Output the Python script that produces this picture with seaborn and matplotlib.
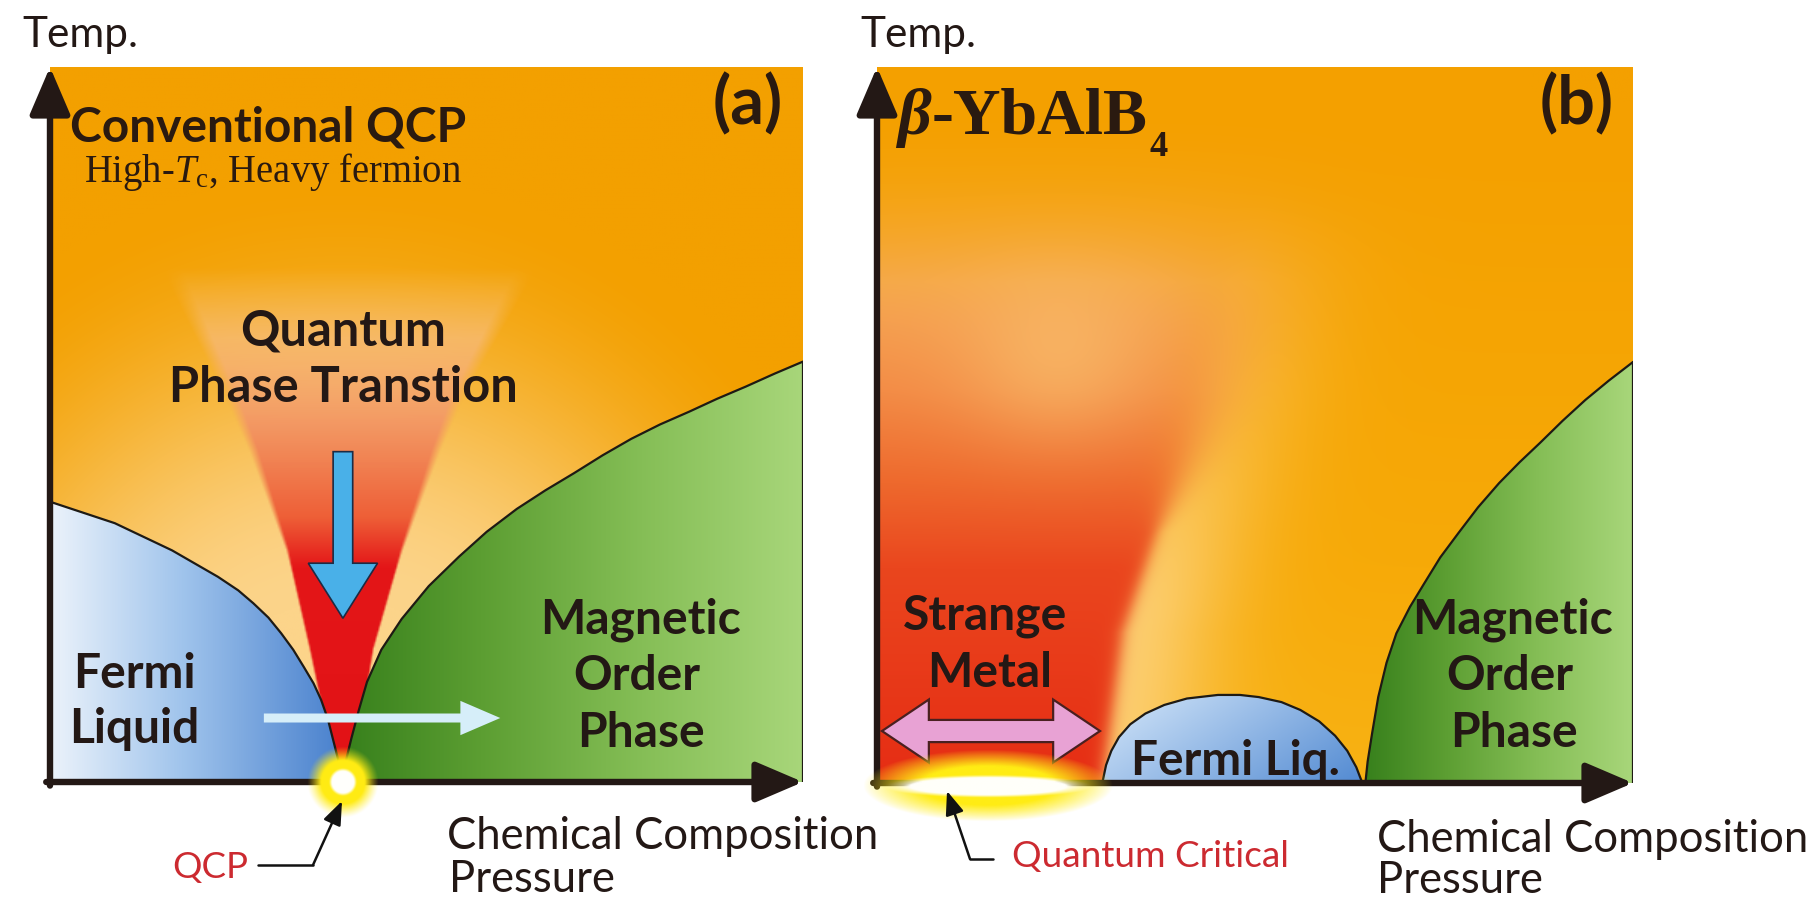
import numpy as np
import pandas as pd
import matplotlib
matplotlib.use("Agg")
import matplotlib.pyplot as plt
import seaborn as sns
from matplotlib.patches import Polygon, FancyArrow, FancyArrowPatch

sns.set_theme(style="white")
plt.rcParams['font.family'] = ['Lato', 'DejaVu Sans']
plt.rcParams['mathtext.fontset'] = 'custom'
plt.rcParams['mathtext.rm'] = 'Liberation Serif'
plt.rcParams['mathtext.it'] = 'Liberation Serif:italic'
plt.rcParams['mathtext.bf'] = 'Liberation Serif:bold'

# ---------------- data (relative units 0..1) ----------------
# Panel (a): conventional QCP
QCP_A = 0.389
FL_A_X = [0.0, 0.086, 0.162, 0.223, 0.250, 0.270, 0.290, 0.307, 0.323, 0.337, 0.350, 0.360, 0.369, 0.376, 0.383, 0.389]
FL_A_Y = [0.392, 0.362, 0.324, 0.287, 0.268, 0.250, 0.230, 0.208, 0.185, 0.161, 0.138, 0.115, 0.088, 0.059, 0.030, 0.0]
MO_A_X = [0.389, 0.393, 0.400, 0.410, 0.421, 0.440, 0.467, 0.503, 0.543, 0.580, 0.620, 0.658, 0.696, 0.734, 0.772, 0.810, 0.849, 0.886, 0.924, 0.962, 1.0]
MO_A_Y = [0.0, 0.030, 0.06, 0.100, 0.14, 0.185, 0.228, 0.274, 0.315, 0.350, 0.382, 0.408, 0.432, 0.457, 0.480, 0.500, 0.518, 0.536, 0.553, 0.571, 0.588]
FAN_Y = [0.0, 0.10, 0.185, 0.324, 0.464, 0.544, 0.72]
FAN_LEFT_X = [0.389, 0.362, 0.345, 0.315, 0.270, 0.239, 0.160]
FAN_RIGHT_X = [0.389, 0.416, 0.429, 0.467, 0.513, 0.543, 0.635]
TUNE_ARROW_X = [0.284, 0.598]
TUNE_ARROW_Y = 0.0895
DOWN_ARROW_X = 0.389
DOWN_ARROW_Y = [0.462, 0.229]

# Panel (b): beta-YbAlB4
FL_B_X = [0.298, 0.303, 0.310, 0.320, 0.335, 0.355, 0.380, 0.410, 0.451, 0.480, 0.505, 0.535, 0.560, 0.585, 0.606, 0.622, 0.634, 0.642]
FL_B_Y = [0.0, 0.025, 0.045, 0.064, 0.082, 0.097, 0.109, 0.118, 0.123, 0.123, 0.120, 0.113, 0.102, 0.086, 0.066, 0.045, 0.022, 0.0]
MO_B_X = [0.646, 0.649, 0.655, 0.663, 0.674, 0.687, 0.705, 0.724, 0.745, 0.769, 0.795, 0.823, 0.850, 0.877, 0.907, 0.937, 0.968, 1.0]
MO_B_Y = [0.0, 0.030, 0.070, 0.120, 0.168, 0.209, 0.246, 0.279, 0.315, 0.349, 0.385, 0.419, 0.448, 0.475, 0.506, 0.535, 0.562, 0.588]
SM_EDGE_Y = [0.0, 0.21, 0.35, 0.44, 0.535, 0.70, 0.90, 1.0]
SM_EDGE_X = [0.298, 0.325, 0.370, 0.406, 0.443, 0.49, 0.55, 0.58]
QC_B_CENTER = 0.147
SM_ARROW_X = [0.0066, 0.295]
SM_ARROW_Y = 0.0726

# texts
AXIS_T = "Temp."
AXIS_X = ["Chemical Composition", "Pressure"]
TITLE_A = "Conventional QCP"
SUBTITLE_A = r"High-$T_{\rm c}$, Heavy fermion"
TAGS = ["(a)", "(b)"]
QPT_LABEL = ["Quantum", "Phase Transtion"]
FL_A_LABEL = ["Fermi", "Liquid"]
MO_LABEL = ["Magnetic", "Order", "Phase"]
QCP_LABEL = "QCP"
TITLE_B = ["β", "-YbAlB", "4"]
SM_LABEL = ["Strange", "Metal"]
FL_B_LABEL = "Fermi Liq."
QC_LABEL = "Quantum Critical"

INK = "#231815"
RED_TXT = "#cc2a30"

# ---------------- helpers ----------------
W, H = 1812, 898
fig = plt.figure(figsize=(W / 100, H / 100), dpi=100)
fig.patch.set_facecolor("white")


def px_axes(x0, yb, x1, yt):
    ax = fig.add_axes([x0 / W, 1 - yb / H, (x1 - x0) / W, (yb - yt) / H])
    ax.set_axis_off()
    return ax


axA = px_axes(50, 782, 803, 67)
axB = px_axes(877, 783, 1633, 67)
PXA = (753, 715)
PXB = (756, 716)

N = 500
g = np.linspace(0, 1, N)
U, V = np.meshgrid(g, g)


def smooth(e0, e1, x):
    t = np.clip((x - e0) / (e1 - e0), 0, 1)
    return t * t * (3 - 2 * t)


def rgb(c):
    return np.array(c, float) / 255


def lerp(a, b, w):
    return a * (1 - w[..., None]) + b * w[..., None]


def ramp(x, stops, colors):
    cols = np.array(colors, float) / 255
    return np.stack([np.interp(x, stops, cols[:, k]) for k in range(cols.shape[1])], axis=-1)


def image(ax, rgba, z, xs=None, ys=None, extent=(0, 1, 0, 1), clip=True):
    im = ax.imshow(rgba, extent=extent, origin="lower", aspect="auto",
                   interpolation="bilinear", zorder=z)
    if xs is not None:
        poly = Polygon(np.column_stack([xs, ys]), closed=True, transform=ax.transData,
                       fc="none", ec="none")
        ax.add_patch(poly)
        im.set_clip_path(poly)
    elif not clip:
        im.set_clip_on(False)
    return im


def boundary(ax, xs, ys):
    df = pd.DataFrame({"x": xs, "y": ys})
    sns.lineplot(data=df, x="x", y="y", sort=False, estimator=None, ax=ax,
                 color="#1e1a14", lw=1.6, zorder=4)


def axis_arrows(ax):
    st = "-|>,head_length=1.45,head_width=0.62"
    for a, b in [((0, -0.005), (0, 1.0)), ((-0.005, 0), (1.0, 0))]:
        ax.add_patch(FancyArrowPatch(a, b, arrowstyle=st, mutation_scale=20, lw=4.6,
                                     color=INK, zorder=6, clip_on=False,
                                     shrinkA=0, shrinkB=0))


def green_img(x0):
    t = np.clip((U - x0) / (1 - x0), 0, 1)
    return ramp(t, [0, 0.3, 0.65, 1.0],
                [(55, 128, 28), (92, 158, 50), (133, 190, 86), (168, 214, 122)])


# ---------------- panel (a) ----------------
orange = rgb((243, 160, 0))
cream = rgb((252, 212, 138))
t = np.sqrt(((U - QCP_A) / 0.75) ** 2 + (V / 0.85) ** 2)
wcr = 1 - smooth(0.30, 1.0, t)
bgA = lerp(np.broadcast_to(orange, U.shape + (3,)), cream, wcr)
image(axA, bgA, 0)

# quantum-critical fan
lx = np.interp(V, FAN_Y, FAN_LEFT_X)
rx = np.interp(V, FAN_Y, FAN_RIGHT_X)
c = (lx + rx) / 2
hw = (rx - lx) / 2
fan_rgb = ramp(V, [0, 0.30, 0.37, 0.50, 0.62, 0.72],
               [(226, 18, 22), (228, 22, 24), (238, 95, 55), (243, 150, 100), (248, 190, 135), (250, 205, 150)])
fa = np.interp(V, [0, 0.30, 0.40, 0.50, 0.62, 0.72], [1, 1, 1, 0.95, 0.65, 0.0])
soft = 0.003 + 0.06 * np.clip(V - 0.3, 0, None)
ea = np.clip((hw - np.abs(U - c)) / soft + 0.5, 0, 1)
fan = np.dstack([fan_rgb, fa * ea * (V <= FAN_Y[-1])])
image(axA, fan, 1)

# Fermi liquid (a)
flA = ramp(np.clip(U / QCP_A, 0, 1), [0, 0.45, 1.0], [(236, 243, 251), (160, 196, 236), (72, 128, 205)])
image(axA, flA, 2, [0.0] + FL_A_X, [0.0] + FL_A_Y)
# magnetic order (a)
image(axA, green_img(QCP_A), 2, MO_A_X + [1.0], MO_A_Y + [0.0])
boundary(axA, FL_A_X, FL_A_Y)
boundary(axA, MO_A_X, MO_A_Y)
boundary(axA, [1.0, 1.0], [0.0, MO_A_Y[-1]])

# arrows (a)
axA.add_patch(FancyArrow(DOWN_ARROW_X, DOWN_ARROW_Y[0], 0, DOWN_ARROW_Y[1] - DOWN_ARROW_Y[0],
                         width=0.026, head_width=0.092, head_length=0.077,
                         length_includes_head=True, fc="#49b0e8", ec="#1d2b44", lw=1.2, zorder=5))
axA.add_patch(FancyArrow(TUNE_ARROW_X[0], TUNE_ARROW_Y, TUNE_ARROW_X[1] - TUNE_ARROW_X[0], 0,
                         width=0.0126, head_width=0.048, head_length=0.053,
                         length_includes_head=True, fc="#d6eef9", ec="none", zorder=5))
axis_arrows(axA)

# QCP glow
gu = np.linspace(QCP_A - 50 / PXA[0], QCP_A + 50 / PXA[0], 200)
gv = np.linspace(-50 / PXA[1], 50 / PXA[1], 200)
GU, GV = np.meshgrid(gu, gv)
r = np.sqrt(((GU - QCP_A) * PXA[0]) ** 2 + (GV * PXA[1]) ** 2)
ya = np.clip((36 - r) / 14, 0, 1) ** 1.2
wa = np.clip((14 - r) / 3, 0, 1)
col = lerp(np.broadcast_to(rgb((255, 236, 20)), GU.shape + (3,)), rgb((255, 255, 252)), wa)
glow = np.dstack([col, np.maximum(ya, wa)])
image(axA, glow, 7, extent=(gu[0], gu[-1], gv[0], gv[-1]), clip=False)

axA.set_xlim(0, 1)
axA.set_ylim(0, 1)
axA.set_axis_off()

# ---------------- panel (b) ----------------
base = ramp(V, [0.0, 0.3, 0.9], [(248, 178, 20), (247, 170, 8), (244, 160, 0)])
edge = np.interp(V, SM_EDGE_Y, SM_EDGE_X)
d = U - edge
softb = 0.006 + 0.12 * np.clip(V - 0.35, 0, None)
red_w = 1 / (1 + np.exp(np.clip(d / softb, -50, 50)))
red_w = red_w * (1 - smooth(0.62, 0.95, V))
red = ramp(V, [0.0, 0.3, 0.42, 0.55, 0.7, 0.85],
           [(230, 45, 20), (234, 70, 30), (238, 105, 45), (243, 140, 70), (246, 170, 85), (246, 168, 50)])
cw = np.where(d >= 0, np.exp(-(d / 0.13) ** 2), np.exp(-(d / 0.05) ** 2))
cw = cw * (1 - 0.5 * smooth(0.2, 0.55, V)) * (1 - smooth(0.5, 0.85, V))
bgB = lerp(base, rgb((252, 206, 112)), cw)
bgB = lerp(bgB, red, red_w)
blob = np.exp(-(((U - 0.24) / 0.13) ** 2 + ((V - 0.6) / 0.12) ** 2))
bgB = lerp(bgB, rgb((249, 190, 108)), 0.65 * blob)
image(axB, bgB, 0)

s = np.clip(((U - FL_B_X[0]) / (FL_B_X[-1] - FL_B_X[0]) + (0.123 - V) / 0.123 * 0.5) / 1.5, 0, 1)
domeB = ramp(s, [0, 1], [(214, 232, 250), (82, 138, 210)])
image(axB, domeB, 2, FL_B_X, FL_B_Y)
image(axB, green_img(MO_B_X[0]), 2, MO_B_X + [1.0], MO_B_Y + [0.0])
boundary(axB, FL_B_X, FL_B_Y)
boundary(axB, MO_B_X, MO_B_Y)
boundary(axB, [1.0, 1.0], [0.0, MO_B_Y[-1]])

# pink double arrow
x0, x1 = SM_ARROW_X
yc = SM_ARROW_Y
hs, hh, hl = 0.0155, 0.044, 0.062
verts = [(x0, yc), (x0 + hl, yc + hh), (x0 + hl, yc + hs), (x1 - hl, yc + hs), (x1 - hl, yc + hh),
         (x1, yc), (x1 - hl, yc - hh), (x1 - hl, yc - hs), (x0 + hl, yc - hs), (x0 + hl, yc - hh)]
axB.add_patch(Polygon(verts, closed=True, fc="#e8a2d4", ec="#4a2020", lw=1.6, zorder=5))
axis_arrows(axB)

# quantum critical glow (ellipse)
gu = np.linspace(-0.03, 0.33, 300)
gv = np.linspace(-0.07, 0.09, 200)
GU, GV = np.meshgrid(gu, gv)
e = np.sqrt(((GU - QC_B_CENTER) / 0.165) ** 2 + ((GV + 0.004) / 0.05) ** 2)
ew = np.sqrt(((GU - QC_B_CENTER) / 0.138) ** 2 + ((GV + 0.005) / 0.016) ** 2)
ya = np.clip((1.0 - e) / 0.45, 0, 1) ** 0.9
wa = np.clip((1 - ew) / 0.25, 0, 1)
col = lerp(np.broadcast_to(rgb((255, 236, 20)), GU.shape + (3,)), rgb((255, 255, 250)), wa)
glow = np.dstack([col, np.maximum(ya, wa)])
image(axB, glow, 7, extent=(gu[0], gu[-1], gv[0], gv[-1]), clip=False)

axB.set_xlim(0, 1)
axB.set_ylim(0, 1)
axB.set_axis_off()

# ---------------- text layer (pixel coordinates) ----------------
tax = fig.add_axes([0, 0, 1, 1])
tax.set_xlim(0, W)
tax.set_ylim(H, 0)
tax.set_axis_off()
tax.set_zorder(10)
tax.patch.set_alpha(0)
renderer = fig.canvas.get_renderer()


def fit(txt, width, **kw):
    tt = tax.text(0, 0, txt, fontsize=20, **kw)
    w = tt.get_window_extent(renderer).width
    tt.remove()
    return 20 * width / w


def put(x, y, txt, fs, ha="left", va="baseline", color=INK, **kw):
    return tax.text(x, y, txt, fontsize=fs, ha=ha, va=va, color=color, **kw)


B = dict(weight="bold")
fs_temp = fit(AXIS_T, 116)
put(22, 47, AXIS_T, fs_temp)
put(860, 47, AXIS_T, fs_temp)

fs_x = fit(AXIS_X[0], 431)
put(447, 849, AXIS_X[0], fs_x)
put(449, 892, AXIS_X[1], fs_x)
put(1377, 852, AXIS_X[0], fs_x)
put(1377, 893, AXIS_X[1], fs_x)

fs_t = fit(TITLE_A, 396, **B)
put(70, 141, TITLE_A, fs_t, color="#2a1a10", **B)
fs_s = fit(SUBTITLE_A, 378, family="Liberation Serif")
put(84, 182, SUBTITLE_A, fs_s, color="#2a1a10", family="Liberation Serif")

fs_tag = fit(TAGS[0], 70, **B)
put(748, 105, TAGS[0], fs_tag, ha="center", va="center", color="#2a1a10", **B)
put(1577, 105, TAGS[1], fs_tag, ha="center", va="center", color="#2a1a10", **B)

fs_q = np.mean([fit(QPT_LABEL[0], 206, **B), fit(QPT_LABEL[1], 346, **B)])
put(343, 346, QPT_LABEL[0], fs_q, ha="center", **B)
put(343, 402, QPT_LABEL[1], fs_q, ha="center", **B)

fs_p = np.mean([fit(FL_A_LABEL[0], 123, **B), fit(FL_A_LABEL[1], 135, **B),
                fit(MO_LABEL[0], 202, **B), fit(MO_LABEL[1], 124, **B), fit(MO_LABEL[2], 126, **B),
                fit(SM_LABEL[0], 168, **B), fit(SM_LABEL[1], 123, **B)])
put(134, 688, FL_A_LABEL[0], fs_p, ha="center", **B)
put(134, 743, FL_A_LABEL[1], fs_p, ha="center", **B)
for cx in (640, 1513):
    put(cx, 633, MO_LABEL[0], fs_p, ha="center", **B)
    put(cx - 3, 690, MO_LABEL[1], fs_p, ha="center", **B)
    put(cx + 1, 747, MO_LABEL[2], fs_p, ha="center", **B)
put(985, 630, SM_LABEL[0], fs_p, ha="center", **B)
put(990, 687, SM_LABEL[1], fs_p, ha="center", **B)

fs_fl = fit(FL_B_LABEL, 210, **B)
put(1131, 775, FL_B_LABEL, fs_fl, **B)

fs_qcp = fit(QCP_LABEL, 76)
put(172, 878, QCP_LABEL, fs_qcp, color=RED_TXT)
fs_qc = fit(QC_LABEL, 278)
put(1012, 867, QC_LABEL, fs_qc, color=RED_TXT)

# beta-YbAlB4
fs_b = 47.5
serif = dict(family="Liberation Serif", weight="bold")
t1 = put(897, 134, TITLE_B[0], fs_b, color="#2a1a10", style="italic", **serif)
w1 = t1.get_window_extent(renderer).width
t2 = put(897 + w1 + 1, 134, TITLE_B[1], fs_b, color="#2a1a10", **serif)
w2 = t2.get_window_extent(renderer).width
put(897 + w1 + w2 + 3, 156, TITLE_B[2], fs_b * 0.55, color="#2a1a10", **serif)

# pointer leaders
lead = dict(arrowstyle="-|>,head_length=0.9,head_width=0.35", mutation_scale=16, lw=1.8,
            color="#111111", shrinkA=0, shrinkB=0, zorder=12)
tax.plot([258, 313], [865, 865], color="#111111", lw=1.8)
tax.add_patch(FancyArrowPatch((313, 865), (342, 801), **lead))
tax.plot([993, 970], [859, 859], color="#111111", lw=1.8)
tax.add_patch(FancyArrowPatch((970, 859), (947, 791), **lead))

fig.savefig("out.png", dpi=100, facecolor="white")
